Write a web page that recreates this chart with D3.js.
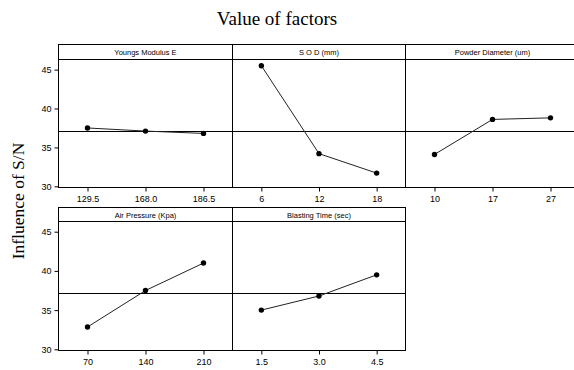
<!DOCTYPE html>
<html>
<head>
<meta charset="utf-8">
<script src="https://cdn.jsdelivr.net/npm/d3@7"></script>
<style>
body { margin: 0; background: #fff; }
svg { display: block; }
</style>
</head>
<body>
<script>
// factor names and their levels
var factors = ["Youngs Modulus E", "S O D (mm)", "Powder Diameter (um)", "Air Pressure (Kpa)", "Blasting Time (sec)"];
var levels = [
	["129.5", "168.0", "186.5"],
	["6", "12", "18"],
	["10", "17", "27"],
	["70", "140", "210"],
	["1.5", "3.0", "4.5"]
];
// mean S/N at each level
var snYoung = [37.5, 37.1, 36.8];
var snSod = [45.5, 34.2, 31.7];
var snPowder = [34.1, 38.6, 38.8];
var snAir = [32.85, 37.5, 41.0];
var snTime = [35.0, 36.8, 39.5];
var overallMean = 37.15;
var yTicks = [30, 35, 40, 45];

var series = [snYoung, snSod, snPowder, snAir, snTime];

var w = 574, h = 370;
var left = 58, pw = 173.5;
var rows = [
	{ top: 44, head: 15, bottom: 187 },
	{ top: 207, head: 14, bottom: 350 }
];

var svg = d3.select("body").append("svg")
	.attr("width", w)
	.attr("height", h);

svg.append("text")
	.attr("x", 277)
	.attr("y", 25)
	.attr("text-anchor", "middle")
	.style("font-family", "Liberation Serif, serif")
	.style("font-size", "19px")
	.text("Value of factors");

svg.append("text")
	.attr("transform", "translate(24,201) rotate(-90)")
	.attr("text-anchor", "middle")
	.style("font-family", "Liberation Serif, serif")
	.style("font-size", "17.5px")
	.text("Influence of S/N");

factors.forEach(function(name, i) {
	var r = rows[Math.floor(i / 3)];
	var col = i % 3;
	var x0 = Math.round(left + col * pw) + 0.5;
	var x1 = Math.round(left + (col + 1) * pw) + 0.5;
	var top = r.top + 0.5, bottom = r.bottom + 0.5;
	var plotTop = top + r.head;

	var g = svg.append("g");

	var x = d3.scalePoint()
		.domain(levels[i])
		.range([x0, x1])
		.padding(0.5);

	var y = d3.scaleLinear()
		.domain([29.85, 46.3])
		.range([bottom, plotTop]);

	// header strip
	g.append("rect")
		.attr("x", x0).attr("y", top)
		.attr("width", x1 - x0).attr("height", bottom - top)
		.attr("fill", "none").attr("stroke", "#000").attr("stroke-width", 1);
	g.append("line")
		.attr("x1", x0).attr("x2", x1)
		.attr("y1", plotTop).attr("y2", plotTop)
		.attr("stroke", "#000");
	g.append("text")
		.attr("x", (x0 + x1) / 2)
		.attr("y", top + r.head / 2 + 3)
		.attr("text-anchor", "middle")
		.style("font-family", "Liberation Sans, sans-serif")
		.style("font-size", "7.5px")
		.text(name);

	// reference line at overall mean
	var ym = Math.round(y(overallMean)) + 0.5;
	g.append("line")
		.attr("x1", x0).attr("x2", x1)
		.attr("y1", ym).attr("y2", ym)
		.attr("stroke", "#000");

	// x axis
	var xa = g.append("g")
		.attr("transform", "translate(0," + bottom + ")")
		.call(d3.axisBottom(x).tickSize(4).tickPadding(4));
	xa.select(".domain").remove();
	xa.selectAll("text")
		.style("font-family", "Liberation Sans, sans-serif")
		.style("font-size", "9px")
		.attr("fill", "#000");

	if (col === 0) {
		var ya = g.append("g")
			.attr("transform", "translate(" + x0 + ",0)")
			.call(d3.axisLeft(y).tickValues(yTicks).tickSize(4).tickPadding(3));
		ya.select(".domain").remove();
		ya.selectAll("text")
			.style("font-family", "Liberation Sans, sans-serif")
			.style("font-size", "9px")
			.attr("fill", "#000");
	}

	var line = d3.line()
		.x(function(d, k) { return x(levels[i][k]); })
		.y(function(d) { return y(d); });

	g.append("path")
		.datum(series[i])
		.attr("d", line)
		.attr("fill", "none")
		.attr("stroke", "#222")
		.attr("stroke-width", 1);

	g.selectAll("circle")
		.data(series[i])
		.enter()
		.append("circle")
		.attr("cx", function(d, k) { return x(levels[i][k]); })
		.attr("cy", function(d) { return y(d); })
		.attr("r", 2.7)
		.attr("fill", "#000");
});
</script>
</body>
</html>
